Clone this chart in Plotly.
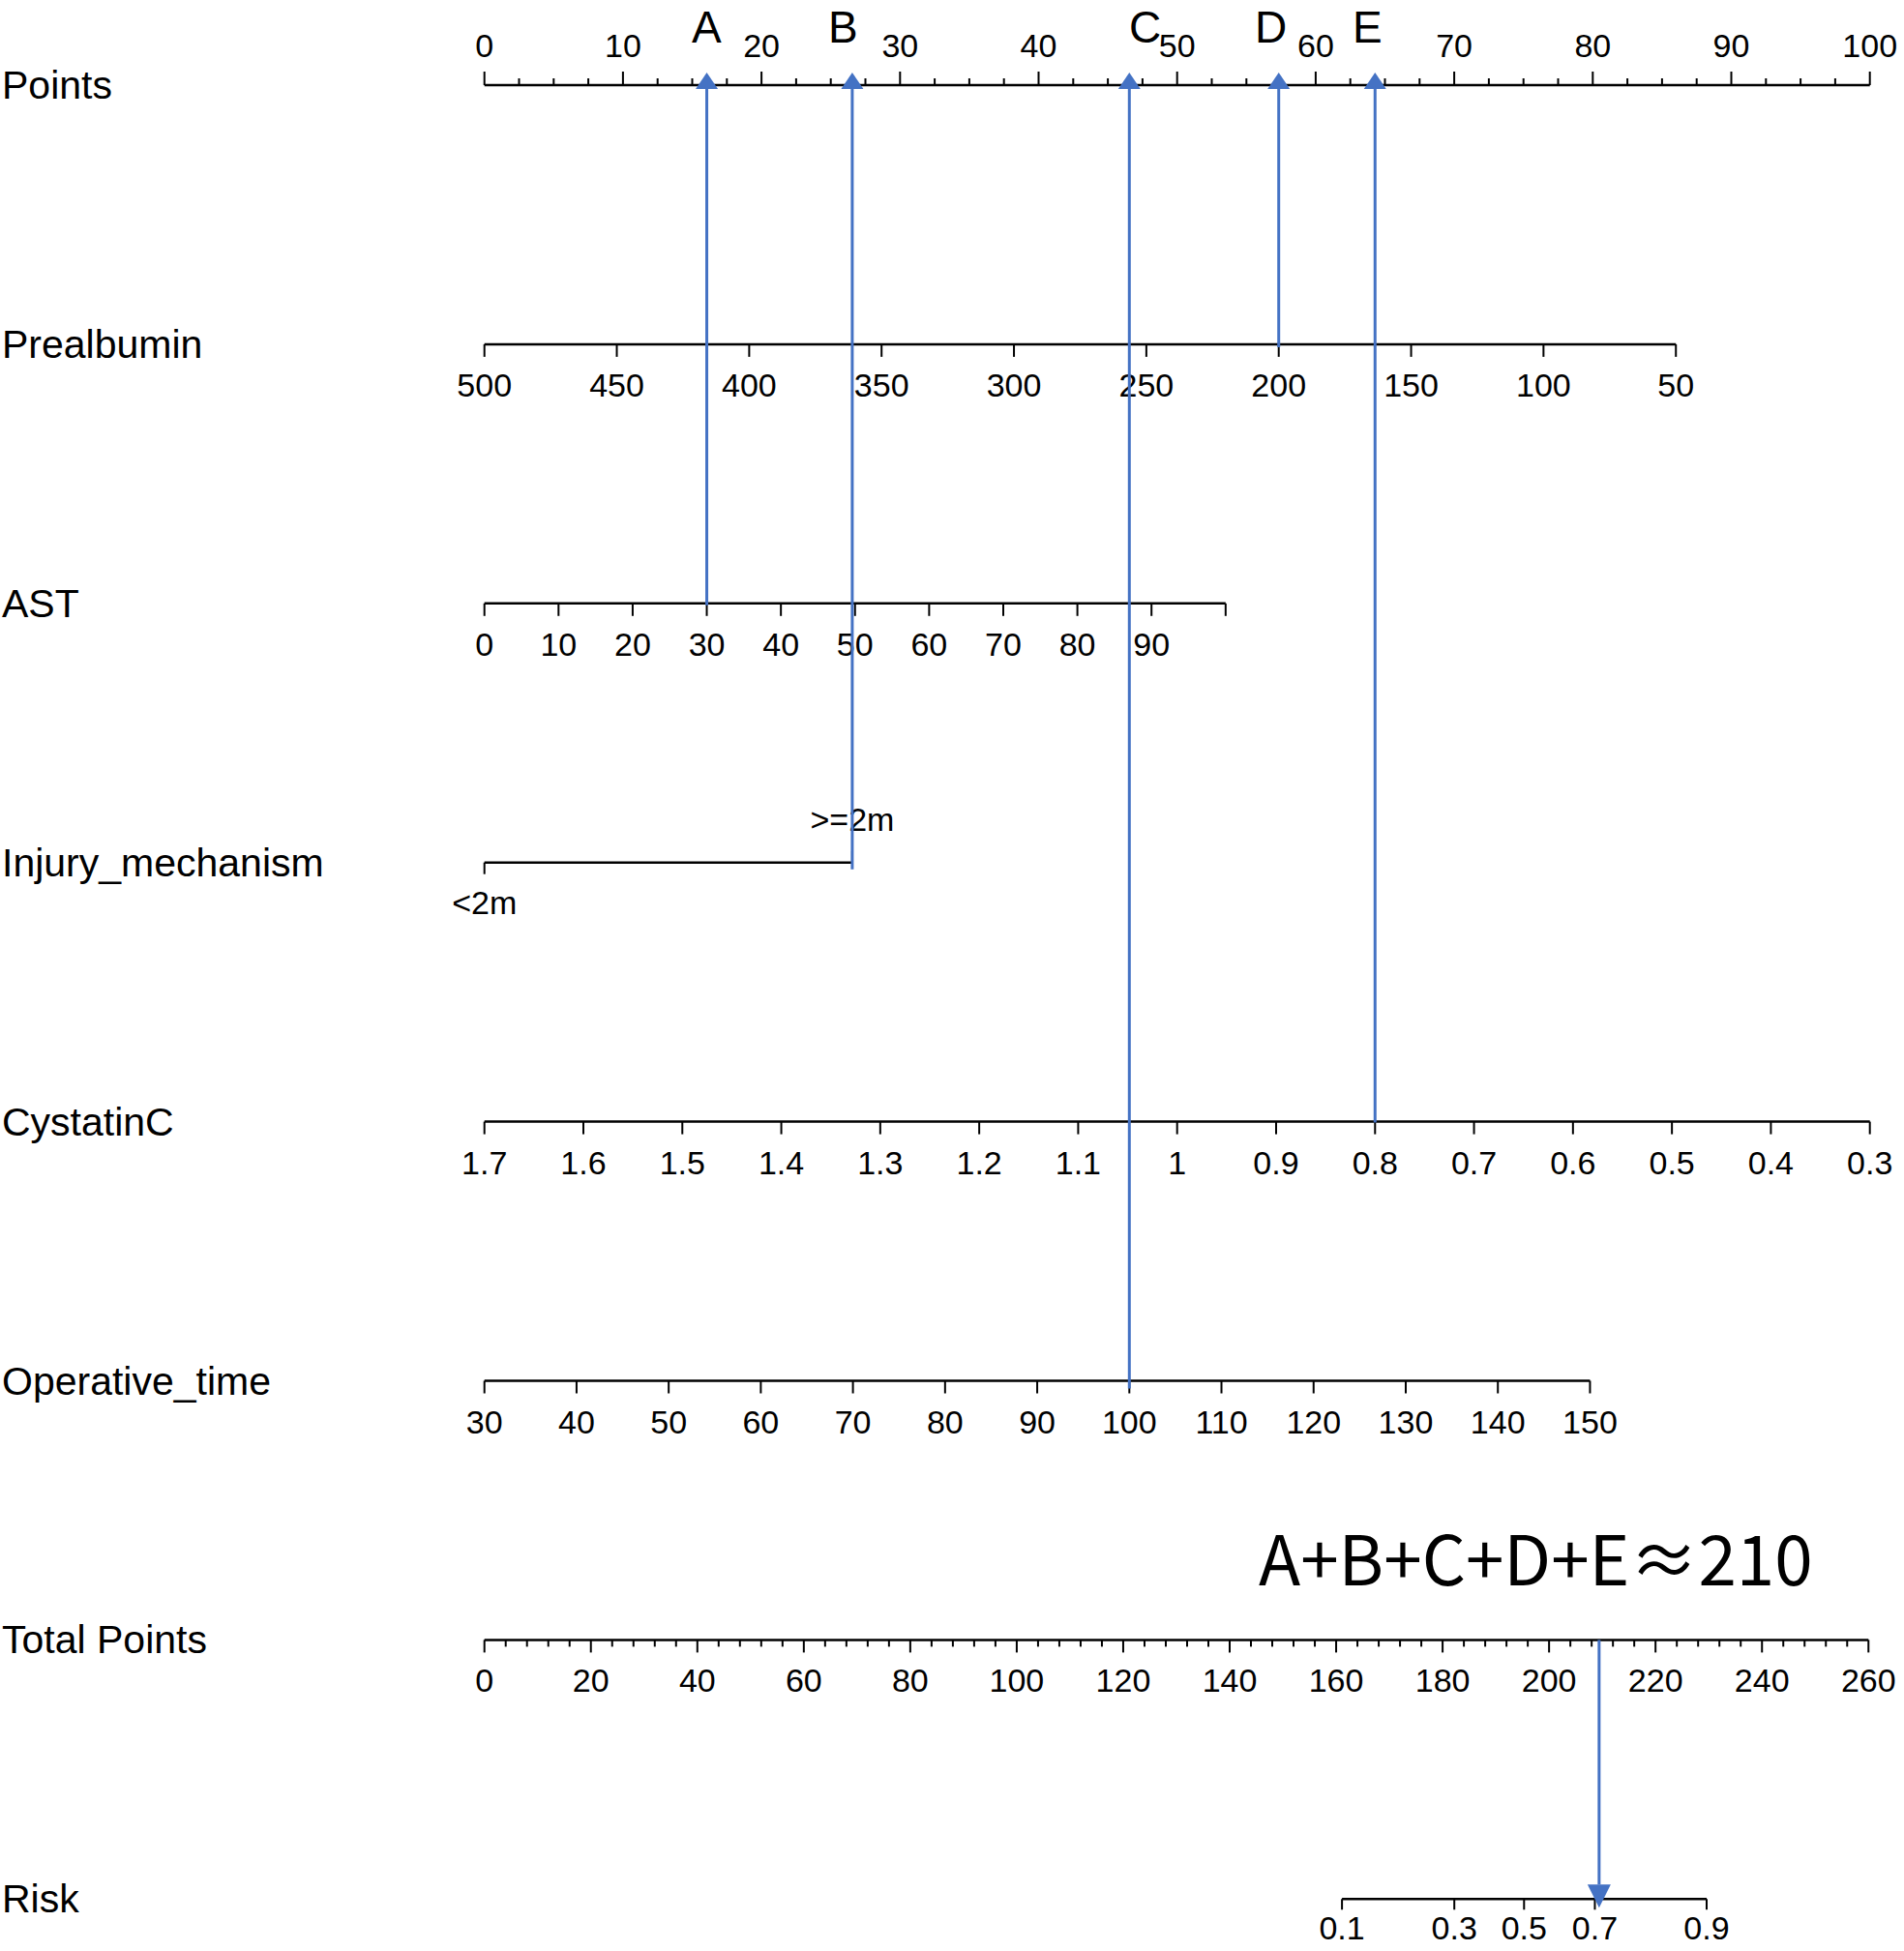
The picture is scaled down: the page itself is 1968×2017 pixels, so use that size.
import plotly.graph_objects as go

# ---------------- data ----------------
row_names = ["Points", "Prealbumin", "AST", "Injury_mechanism", "CystatinC",
             "Operative_time", "Total Points", "Risk"]

points_major = [0, 10, 20, 30, 40, 50, 60, 70, 80, 90, 100]
points_minor_step = 2.5

prealbumin_ticks = [500, 450, 400, 350, 300, 250, 200, 150, 100, 50]
prealbumin_scale = (500, 50, 86.0)          # value at 0 pts, value at end, points at end

ast_ticks = [0, 10, 20, 30, 40, 50, 60, 70, 80, 90, 100]
ast_labels = ["0", "10", "20", "30", "40", "50", "60", "70", "80", "90", ""]
ast_scale = (0, 100, 53.5)

injury_levels = ["<2m", ">=2m"]
injury_points = [0, 26.55]

cystatin_ticks = [1.7, 1.6, 1.5, 1.4, 1.3, 1.2, 1.1, 1.0, 0.9, 0.8, 0.7, 0.6, 0.5, 0.4, 0.3]
cystatin_labels = ["1.7", "1.6", "1.5", "1.4", "1.3", "1.2", "1.1", "1", "0.9", "0.8",
                   "0.7", "0.6", "0.5", "0.4", "0.3"]
cystatin_scale = (1.7, 0.3, 100.0)

optime_ticks = [30, 40, 50, 60, 70, 80, 90, 100, 110, 120, 130, 140, 150]
optime_scale = (30, 150, 79.8)

total_major = [0, 20, 40, 60, 80, 100, 120, 140, 160, 180, 200, 220, 240, 260]
total_minor_step = 4
total_scale = (0, 260, 99.9)

risk_ticks = [0.1, 0.3, 0.5, 0.7, 0.9]
risk_labels = ["0.1", "0.3", "0.5", "0.7", "0.9"]
risk_total_points = [161.1, 182.2, 195.3, 208.6, 229.6]

# example patient (arrows)
arrow_letters = ["A", "B", "C", "D", "E"]
patient_ast = 30
patient_injury = ">=2m"
patient_optime = 100
patient_prealbumin = 200
patient_cystatin = 0.8
total_marked = 209.4
formula_text = "A+B+C+D+E≈210"

# ---------------- layout constants ----------------
W, H = 1968, 2017
X0_PX, PX_PER_PT = 500.7, 14.32
Y0_PX, ROW_PX = 88.0, 267.9
BLACK = "#000000"
BLUE = "#4472C4"
FONT = "Liberation Sans, Arial, sans-serif"
TICK_FONT_SIZE = 34


def lin(v, scale):
    v0, v1, pmax = scale
    return (v - v0) / (v1 - v0) * pmax


def dy(px):
    return px / ROW_PX


def dx(px):
    return px / PX_PER_PT


fig = go.Figure()


def add_axis(row, xs, labels, tick_dir, label_side, major_len=13, minor_xs=None,
             minor_len=7, per_tick_dirs=None, label_sides=None, label_off=46):
    # main line
    fig.add_trace(go.Scatter(x=[min(xs), max(xs)], y=[row, row], mode="lines",
                             line=dict(color=BLACK, width=2.5), hoverinfo="skip"))
    tx, ty = [], []
    for i, x in enumerate(xs):
        d = per_tick_dirs[i] if per_tick_dirs else tick_dir
        tx += [x, x, None]
        ty += [row, row + d * dy(major_len), None]
    if minor_xs:
        for x in minor_xs:
            tx += [x, x, None]
            ty += [row, row + tick_dir * dy(minor_len), None]
    fig.add_trace(go.Scatter(x=tx, y=ty, mode="lines", line=dict(color=BLACK, width=2),
                             hoverinfo="skip"))
    lx, ly, lt = [], [], []
    for i, (x, t) in enumerate(zip(xs, labels)):
        if t == "":
            continue
        s = label_sides[i] if label_sides else label_side
        off = label_off[i] if isinstance(label_off, (list, tuple)) else label_off
        lx.append(x)
        ly.append(row + s * dy(off))
        lt.append(t)
    fig.add_trace(go.Scatter(x=lx, y=ly, text=lt, mode="text", textposition="middle center",
                             textfont=dict(family=FONT, size=TICK_FONT_SIZE, color=BLACK),
                             hoverinfo="skip"))


# Points (row 0): ticks up, labels above
minor_pts = []
k = 0.0
while k <= 100.0001:
    if abs(k / 10 - round(k / 10)) > 1e-6:
        minor_pts.append(k)
    k += points_minor_step
add_axis(0, points_major, [str(v) for v in points_major], -1, -1, major_len=14,
         minor_xs=minor_pts, minor_len=7, label_off=38)

# Prealbumin (row 1)
add_axis(1, [lin(v, prealbumin_scale) for v in prealbumin_ticks],
         [str(v) for v in prealbumin_ticks], 1, 1)

# AST (row 2)
add_axis(2, [lin(v, ast_scale) for v in ast_ticks], ast_labels, 1, 1)

# Injury mechanism (row 3)
add_axis(3, injury_points, injury_levels, 1, 1, major_len=12,
         per_tick_dirs=[1, -1], label_sides=[1, -1], label_off=[45, 41])

# CystatinC (row 4)
add_axis(4, [lin(v, cystatin_scale) for v in cystatin_ticks], cystatin_labels, 1, 1)

# Operative time (row 5)
add_axis(5, [lin(v, optime_scale) for v in optime_ticks], [str(v) for v in optime_ticks], 1, 1)

# Total points (row 6)
total_minor = [lin(v, total_scale) for v in range(0, 261, total_minor_step) if v % 20 != 0]
add_axis(6, [lin(v, total_scale) for v in total_major], [str(v) for v in total_major], 1, 1,
         minor_xs=total_minor, minor_len=7, label_off=45)

# Risk (row 7)
add_axis(7, [lin(v, total_scale) for v in risk_total_points], risk_labels, 1, 1, major_len=11,
         label_off=33)

# row labels
for i, name in enumerate(row_names):
    fig.add_annotation(x=0.0, xref="paper", y=i, yref="y", text=name, showarrow=False,
                       xanchor="left", yanchor="middle",
                       font=dict(family=FONT, size=41, color=BLACK))

# ---------------- arrows ----------------
arrow_sources = [
    (lin(patient_ast, ast_scale), 2, 2),
    (injury_points[injury_levels.index(patient_injury)], 3, 7),
    (lin(patient_optime, optime_scale), 5, 8),
    (lin(patient_prealbumin, prealbumin_scale), 1, 3),
    (lin(patient_cystatin, cystatin_scale), 4, 1),
]
letter_shift = [0, -9, 16, -8, -8]

head_w, head_h_up, tip_above = 23, 17, 13
for (x, row, extra), letter, sh in zip(arrow_sources, arrow_letters, letter_shift):
    tip_y = 0 - dy(tip_above)
    base_y = tip_y + dy(head_h_up)
    fig.add_trace(go.Scatter(x=[x, x], y=[row + dy(extra), base_y], mode="lines",
                             line=dict(color=BLUE, width=3), hoverinfo="skip"))
    fig.add_trace(go.Scatter(x=[x - dx(head_w / 2), x + dx(head_w / 2), x, x - dx(head_w / 2)],
                             y=[base_y, base_y, tip_y, base_y], mode="lines", fill="toself",
                             fillcolor=BLUE, line=dict(color=BLUE, width=0), hoverinfo="skip"))
    fig.add_annotation(x=x, y=0 - dy(60), text=letter, showarrow=False, xshift=sh,
                       xanchor="center", yanchor="middle", borderpad=0,
                       font=dict(family=FONT, size=46, color=BLACK))

# total points -> risk arrow
xt = lin(total_marked, total_scale)
tip_y = 7 + dy(9)
base_y = tip_y - dy(24)
fig.add_trace(go.Scatter(x=[xt, xt], y=[6, base_y], mode="lines",
                         line=dict(color=BLUE, width=3), hoverinfo="skip"))
fig.add_trace(go.Scatter(x=[xt - dx(12), xt + dx(12), xt, xt - dx(12)],
                         y=[base_y, base_y, tip_y, base_y], mode="lines", fill="toself",
                         fillcolor=BLUE, line=dict(color=BLUE, width=0), hoverinfo="skip"))

# formula
fig.add_annotation(x=(1299 - X0_PX) / PX_PER_PT, y=(1608 - Y0_PX) / ROW_PX, text=formula_text,
                   showarrow=False, xanchor="left", yanchor="middle",
                   font=dict(family="Noto Sans CJK JP, Noto Sans, sans-serif", size=71,
                             color=BLACK))

fig.update_layout(
    width=W, height=H, margin=dict(l=0, r=0, t=0, b=0),
    paper_bgcolor="white", plot_bgcolor="white", showlegend=False,
    xaxis=dict(range=[-X0_PX / PX_PER_PT, (W - X0_PX) / PX_PER_PT], visible=False, fixedrange=True),
    yaxis=dict(range=[(H - Y0_PX) / ROW_PX, -Y0_PX / ROW_PX], visible=False, fixedrange=True),
)

fig.write_html("out.html", config={"displayModeBar": False},
               post_script="document.body.style.margin='0';document.body.style.overflow='hidden';")
